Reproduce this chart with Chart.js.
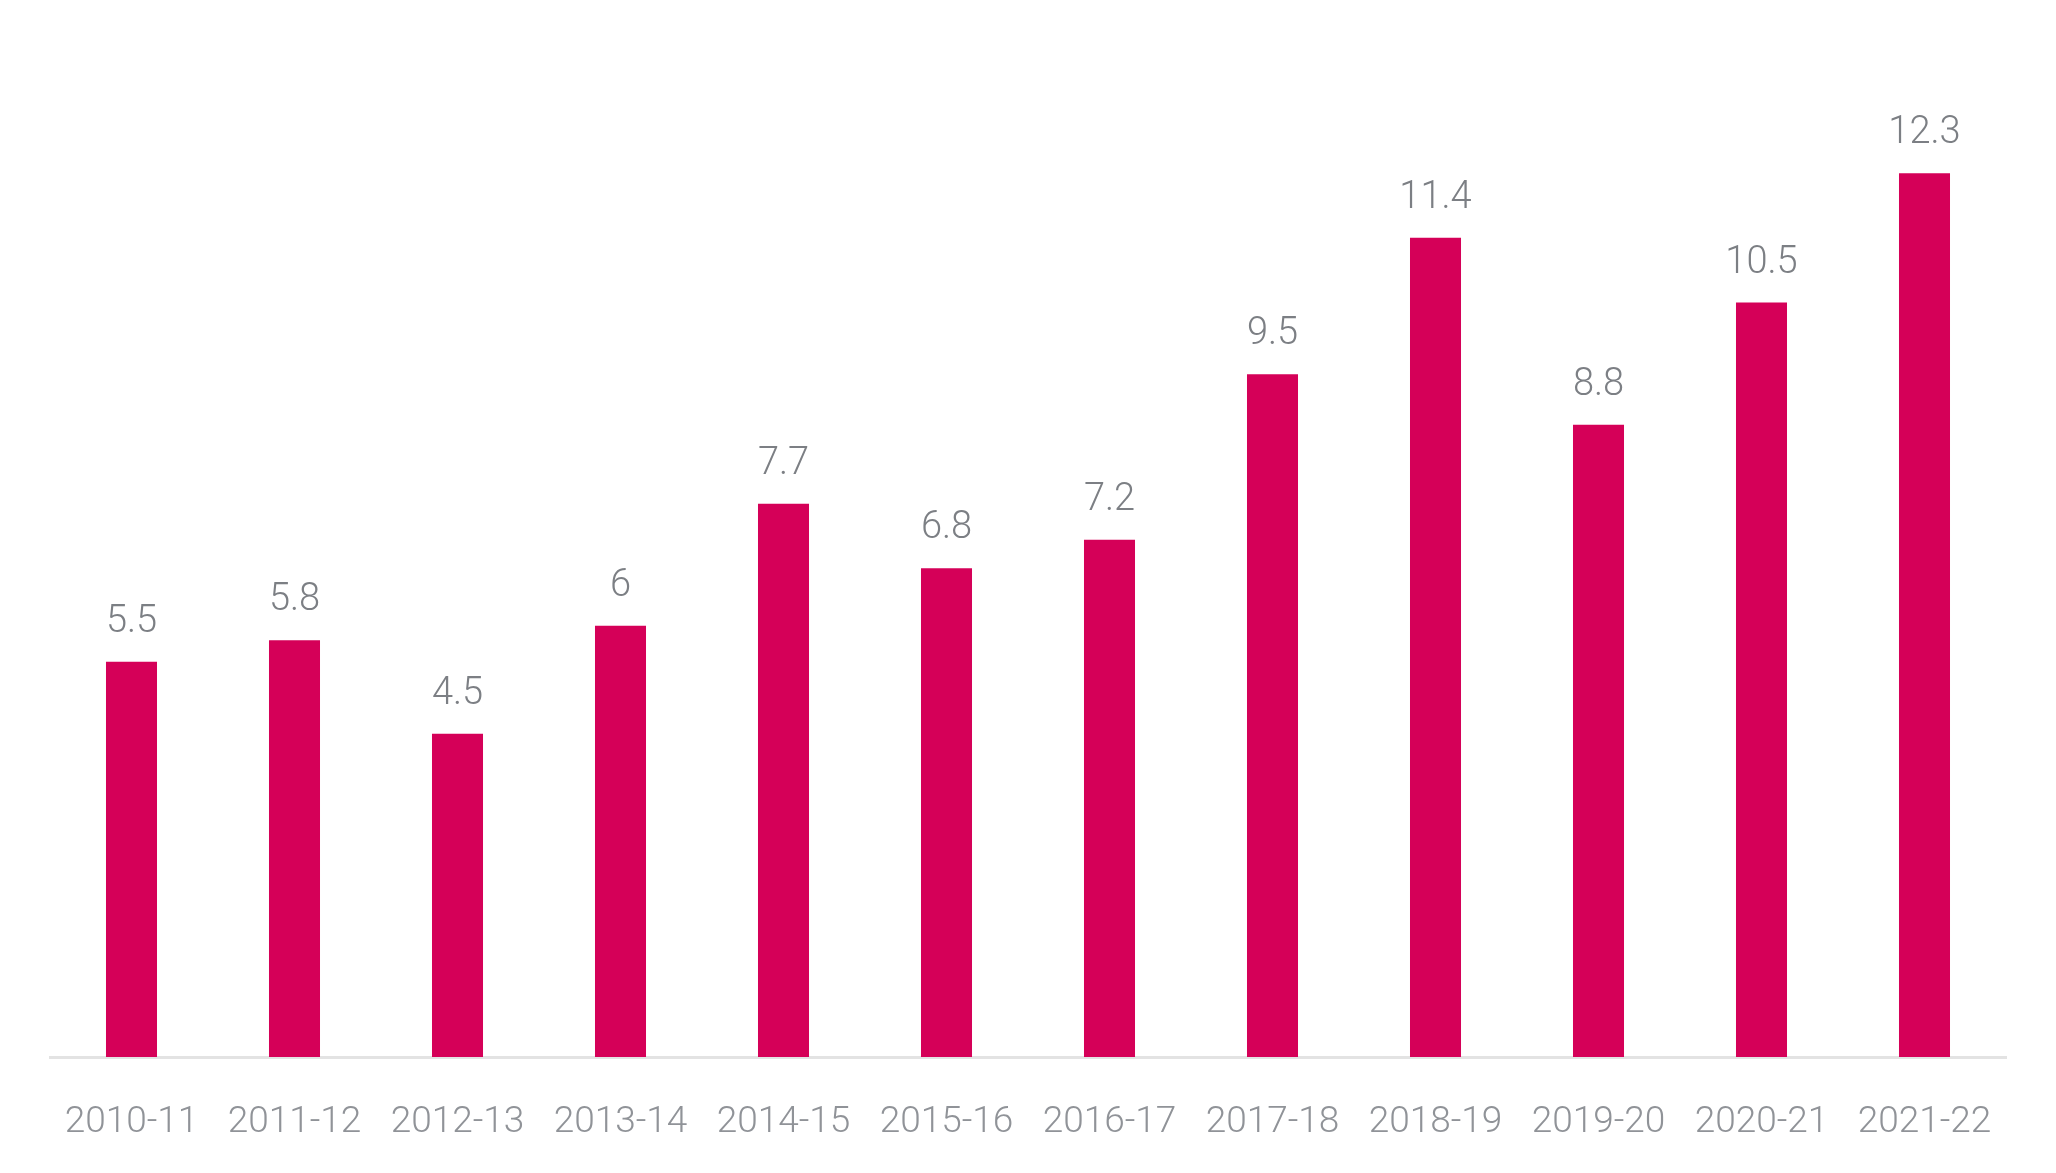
<!DOCTYPE html>
<html>
<head>
<meta charset="utf-8">
<script src="https://cdn.jsdelivr.net/npm/chart.js@4/dist/chart.umd.min.js"></script>
<style>
  html, body { margin: 0; padding: 0; background: #fff; }
  canvas { display: block; }
</style>
</head>
<body>
<canvas id="chart" width="2056" height="1173"></canvas>
<script>
const years = ['2010-11', '2011-12', '2012-13', '2013-14', '2014-15', '2015-16',
  '2016-17', '2017-18', '2018-19', '2019-20', '2020-21', '2021-22'];
const values = [5.5, 5.8, 4.5, 6, 7.7, 6.8, 7.2, 9.5, 11.4, 8.8, 10.5, 12.3];

// value labels above each bar
const barLabels = {
  id: 'barLabels',
  afterDatasetsDraw(chart) {
    const ctx = chart.ctx;
    const meta = chart.getDatasetMeta(0);
    ctx.save();
    ctx.font = '300 38px Roboto';
    ctx.fillStyle = '#7c7f84';
    ctx.textAlign = 'center';
    ctx.textBaseline = 'alphabetic';
    meta.data.forEach((bar, i) => {
      ctx.fillText(String(values[i]), bar.x, bar.y - 30);
    });
    ctx.restore();
  }
};

new Chart(document.getElementById('chart').getContext('2d'), {
  type: 'bar',
  data: {
    labels: years,
    datasets: [{
      data: values,
      backgroundColor: '#d50058',
      barPercentage: 0.313,
      categoryPercentage: 1
    }]
  },
  options: {
    responsive: false,
    animation: false,
    layout: { padding: { left: 50, right: 50, top: 51, bottom: 0 } },
    plugins: { legend: { display: false }, tooltip: { enabled: false } },
    scales: {
      x: {
        grid: { display: false, drawTicks: false },
        border: { display: true, color: '#e3e3e3', width: 3 },
        afterFit(scale) { scale.height = 116; },
        ticks: {
          padding: 44,
          color: '#909398',
          font: { family: 'Roboto', size: 37, weight: '300' },
          maxRotation: 0,
          autoSkip: false
        }
      },
      y: {
        display: false,
        min: 0,
        max: 14
      }
    }
  },
  plugins: [barLabels]
});
</script>
</body>
</html>
